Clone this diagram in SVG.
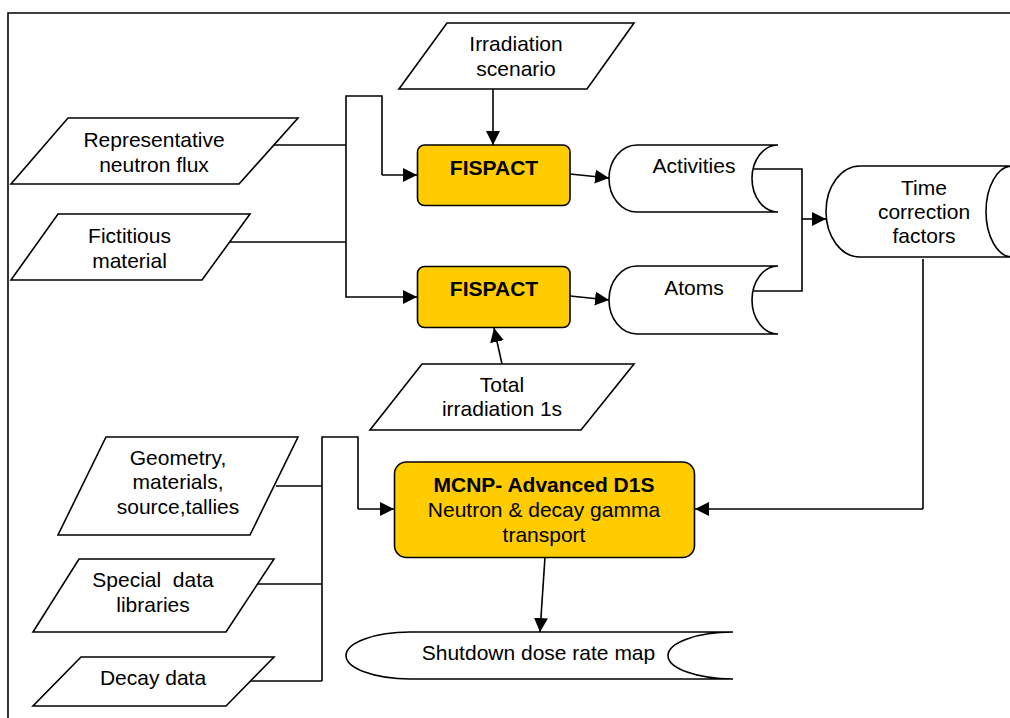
<svg xmlns="http://www.w3.org/2000/svg" width="1010" height="718" viewBox="0 0 1010 718">
<style>
.shape{fill:#fff;stroke:#000;stroke-width:1.6}
.proc{fill:#FFCC00;stroke:#000;stroke-width:1.6}
.t{font-family:"Liberation Sans",Arial,sans-serif;font-size:21px;fill:#000;text-anchor:middle}
.b{font-weight:bold}
.c{fill:none;stroke:#000;stroke-width:1.6}
.ca{fill:none;stroke:#000;stroke-width:1.6;marker-end:url(#ah)}
</style>
<defs>
<marker id="ah" markerUnits="userSpaceOnUse" markerWidth="14" markerHeight="14" refX="14" refY="7" orient="auto" viewBox="0 0 14 14">
<path d="M0,0 L14,7 L0,14 z" fill="#000"/>
</marker>
</defs>
<rect width="1010" height="718" fill="#fff"/>
<path d="M8 718 V13 H1010" class="c"/>

<g id="connectors">
<path class="c" d="M274 145 H346"/>
<path class="c" d="M226 242 H346"/>
<path class="c" d="M346 242 V96 H382 V175"/>
<path class="ca" d="M382 175 H417"/>
<path class="ca" d="M346 242 V297 H417"/>
<path class="ca" d="M493 89 V145"/>
<path class="ca" d="M502 364 L494 328"/>
<path class="ca" d="M570 174 L609 178"/>
<path class="ca" d="M570 296 L609 300"/>
<path class="c" d="M754 169 H802 V291 H754"/>
<path class="ca" d="M802 219 H826"/>
<path class="c" d="M923 259 V509"/>
<path class="ca" d="M923 509 H695"/>
<path class="c" d="M276 486 H322"/>
<path class="c" d="M258 584 H322"/>
<path class="c" d="M249 681 H322"/>
<path class="c" d="M322 681 V437 H358 V509"/>
<path class="ca" d="M358 509 H394"/>
<path class="ca" d="M545 557 L540 632"/>
</g>

<g id="irradiation-scenario">
<path class="shape" d="M447 23 H634 L587 89 H399 Z"/>
<text class="t" x="516" y="51">Irradiation</text>
<text class="t" x="516" y="76">scenario</text>
</g>

<g id="representative-flux">
<path class="shape" d="M68 118 H298 L239 184 H11 Z"/>
<text class="t" x="154" y="147">Representative</text>
<text class="t" x="154" y="172">neutron flux</text>
</g>

<g id="fictitious-material">
<path class="shape" d="M58 214 H250 L202 280 H11 Z"/>
<text class="t" x="129.5" y="243">Fictitious</text>
<text class="t" x="129.5" y="268">material</text>
</g>

<g id="fispact-1">
<rect class="proc" x="417.5" y="145" width="152.5" height="60.5" rx="7"/>
<text class="t b" x="494" y="175">FISPACT</text>
</g>

<g id="fispact-2">
<rect class="proc" x="417.5" y="266.5" width="152.5" height="61" rx="7"/>
<text class="t b" x="494" y="296">FISPACT</text>
</g>

<g id="total-irradiation">
<path class="shape" d="M422 364 H634 L581 430 H370 Z"/>
<text class="t" x="502" y="392">Total</text>
<text class="t" x="502" y="416">irradiation 1s</text>
</g>

<g id="activities">
<path class="shape" d="M778 145 H637 A28 33.5 0 0 0 637 212 H778 A26 33.5 0 0 1 778 145"/>
<text class="t" x="694" y="173">Activities</text>
</g>

<g id="atoms">
<path class="shape" d="M778 266 H637 A28 34 0 0 0 637 334 H778 A26 34 0 0 1 778 266"/>
<text class="t" x="694" y="295">Atoms</text>
</g>

<g id="time-correction">
<path class="shape" d="M1012 166 H860 A34 45.5 0 0 0 860 257 H1012 A26 45.5 0 0 1 1012 166"/>
<text class="t" x="924" y="195">Time</text>
<text class="t" x="924" y="219">correction</text>
<text class="t" x="924" y="243">factors</text>
</g>

<g id="geometry">
<path class="shape" d="M106 437 H298 L250 535 H58 Z"/>
<text class="t" x="178" y="465">Geometry,</text>
<text class="t" x="178" y="489">materials,</text>
<text class="t" x="178" y="514">source,tallies</text>
</g>

<g id="special-data">
<path class="shape" d="M79 559 H274 L226 632 H33 Z"/>
<text class="t" x="153" y="587" xml:space="preserve">Special  data</text>
<text class="t" x="153" y="612">libraries</text>
</g>

<g id="decay-data">
<path class="shape" d="M81 657 H274 L226 706 H33 Z"/>
<text class="t" x="153" y="685">Decay data</text>
</g>

<g id="mcnp">
<rect class="proc" x="394.5" y="462" width="300" height="95.5" rx="12"/>
<text class="t b" x="544" y="492">MCNP- Advanced D1S</text>
<text class="t" x="544" y="517">Neutron &amp; decay gamma</text>
<text class="t" x="544" y="542">transport</text>
</g>

<g id="shutdown-map">
<path class="shape" d="M733 632 H410 A64 23.5 0 0 0 410 679 H733 A65 23.5 0 0 1 733 632"/>
<text class="t" x="538.5" y="660">Shutdown dose rate map</text>
</g>
</svg>
